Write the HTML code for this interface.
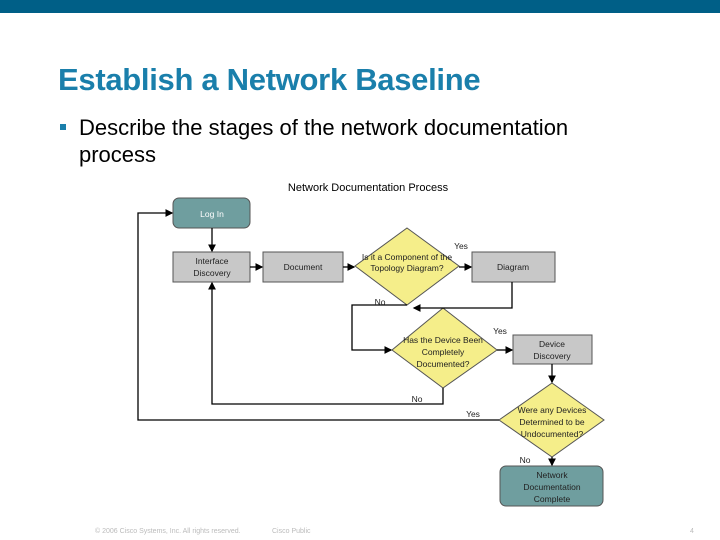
<!DOCTYPE html>
<html><head><meta charset="utf-8"><style>
body{margin:0;width:720px;height:540px;background:#fff;position:relative;overflow:hidden;font-family:"Liberation Sans",sans-serif}
.bar{position:absolute;left:0;top:0;width:720px;height:13px;background:#005f87}
.t{position:absolute;left:58px;top:62px;font-size:31px;font-weight:bold;color:#1a7fab;white-space:nowrap;letter-spacing:-0.3px}
.b{position:absolute;left:79px;top:114px;font-size:22px;color:#000;line-height:27px;width:540px}
.sq{position:absolute;left:60px;top:124px;width:6px;height:6px;background:#1a7fab}
svg{position:absolute;left:0;top:0}
.f{position:absolute;top:528px;font-size:7px;color:#bbb}
</style></head><body>
<div class="bar"></div>
<div class="t">Establish a Network Baseline</div>
<div class="sq"></div>
<div class="b">Describe the stages of the network documentation process</div>
<svg width="720" height="540" font-family="Liberation Sans, sans-serif" font-size="8.5">
<defs><marker id="a" markerWidth="6" markerHeight="6" refX="5" refY="3" orient="auto"><path d="M0,0 L6,3 L0,6z" fill="#000"/></marker></defs>
<text x="368" y="191" font-size="11" text-anchor="middle">Network Documentation Process</text>
<g stroke="#555" stroke-width="1">
<rect x="173" y="198" width="77" height="30" rx="6" fill="#6f9e9f"/>
<rect x="173" y="252" width="77" height="30" fill="#c8c8c8"/>
<rect x="263" y="252" width="80" height="30" fill="#c8c8c8"/>
<rect x="472" y="252" width="83" height="30" fill="#c8c8c8"/>
<rect x="513" y="335" width="79" height="29" fill="#c8c8c8"/>
<rect x="500" y="466" width="103" height="40" rx="6" fill="#6f9e9f"/>
<polygon points="407,228 459,266 407,305 355,266" fill="#f5ee8a"/>
<polygon points="443,308 497,350 443,388 392,350" fill="#f5ee8a"/>
<polygon points="552,383 604,420 552,457 499,420" fill="#f5ee8a"/>
</g>
<g stroke="#000" stroke-width="1.3" fill="none" marker-end="url(#a)">
<line x1="212" y1="228" x2="212" y2="251"/>
<line x1="250" y1="267" x2="262" y2="267"/>
<line x1="343" y1="267" x2="354" y2="267"/>
<line x1="459" y1="267" x2="471" y2="267"/>
<polyline points="512,282 512,308 414,308"/>
<polyline points="407,305 352,305 352,350 391,350"/>
<line x1="497" y1="350" x2="512" y2="350"/>
<line x1="552" y1="364" x2="552" y2="382"/>
<polyline points="443,388 443,404 212,404 212,283"/>
<polyline points="499,420 138,420 138,213 172,213"/>
<line x1="552" y1="457" x2="552" y2="465"/>
</g>
<g text-anchor="middle" fill="#222">
<text x="212" y="217" fill="#fff">Log In</text>
<text x="212" y="264">Interface</text><text x="212" y="276">Discovery</text>
<text x="303" y="270">Document</text>
<text x="513" y="270">Diagram</text>
<text x="407" y="260">Is it a Component of the</text><text x="407" y="271">Topology Diagram?</text>
<text x="443" y="343">Has the Device Been</text><text x="443" y="355">Completely</text><text x="443" y="367">Documented?</text>
<text x="552" y="347">Device</text><text x="552" y="359">Discovery</text>
<text x="552" y="413">Were any Devices</text><text x="552" y="425">Determined to be</text><text x="552" y="437">Undocumented?</text>
<text x="552" y="478">Network</text><text x="552" y="490">Documentation</text><text x="552" y="502">Complete</text>
<text x="461" y="249">Yes</text><text x="380" y="305">No</text>
<text x="500" y="334">Yes</text><text x="417" y="402">No</text>
<text x="473" y="417">Yes</text><text x="525" y="463">No</text>
</g>
</svg>
<div class="f" style="left:95px">© 2006 Cisco Systems, Inc. All rights reserved.</div>
<div class="f" style="left:272px">Cisco Public</div>
<div class="f" style="left:690px">4</div>
</body></html>
